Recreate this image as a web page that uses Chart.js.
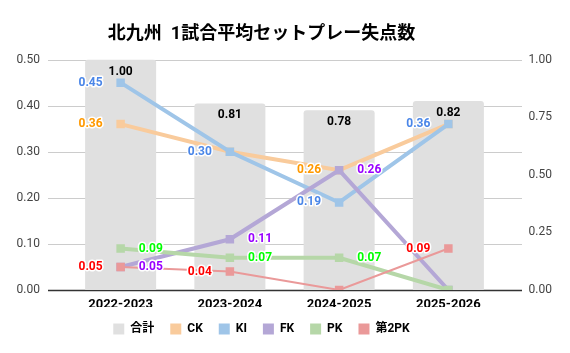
<!DOCTYPE html>
<html>
<head>
<meta charset="utf-8">
<script src="https://cdn.jsdelivr.net/npm/chart.js@4.4.1/dist/chart.umd.min.js"></script>
<style>
  html, body { margin: 0; padding: 0; background: #fff; }
  #wrap { width: 570px; height: 353px; }
</style>
</head>
<body>
<div id="wrap"><canvas id="setplayChart"></canvas></div>
<script>
// データ
const categories = ['2022-2023', '2023-2024', '2024-2025', '2025-2026'];
const totalValues = [1.00, 0.81, 0.78, 0.82];
const ckValues = [0.36, 0.30, 0.26, 0.36];
const kiValues = [0.45, 0.30, 0.19, 0.36];
const fkValues = [0.05, 0.11, 0.26, 0.00];
const pkValues = [0.09, 0.07, 0.07, 0.00];
const pk2Values = [0.05, 0.04, 0.00, 0.09];
const leftTicks = [0.00, 0.10, 0.20, 0.30, 0.40, 0.50];
const rightTicks = [0.00, 0.25, 0.50, 0.75, 1.00];

const FONT = "Roboto, 'Noto Sans CJK JP', sans-serif";

// 横のグリッド線（プロット領域より少し広く描く）
const gridPlugin = {
  id: 'wideGrid',
  beforeDatasetsDraw(chart) {
    const c = chart.ctx;
    const y = chart.scales.y;
    c.save();
    leftTicks.forEach(v => {
      const py = Math.round(y.getPixelForValue(v)) + 0.5;
      c.beginPath();
      c.strokeStyle = v === 0 ? '#333' : '#ccc';
      c.lineWidth = v === 0 ? 1.5 : 1;
      c.moveTo(48, py);
      c.lineTo(522, py);
      c.stroke();
    });
    c.restore();
  }
};

// 値ラベル
const labelPlugin = {
  id: 'valueLabels',
  afterDatasetsDraw(chart) {
    const c = chart.ctx;
    c.save();
    c.font = 'bold 12px ' + FONT;
    c.textBaseline = 'middle';
    c.lineJoin = 'round';
    chart.data.datasets.forEach((ds, i) => {
      if (!ds.labelSides) return;
      const meta = chart.getDatasetMeta(i);
      meta.data.forEach((el, j) => {
        const side = ds.labelSides[j];
        if (!side) return;
        const text = ds.data[j].toFixed(2);
        let x = el.x, y = el.y;
        if (side === 'in') { c.textAlign = 'center'; y = el.y + 12; }
        else if (side === 'L') { c.textAlign = 'right'; x = el.x - 18; }
        else { c.textAlign = 'left'; x = el.x + 18; }
        c.strokeStyle = '#fff';
        c.lineWidth = 3;
        if (side !== 'in') c.strokeText(text, x, y);
        c.fillStyle = ds.labelColor;
        c.fillText(text, x, y);
      });
    });
    c.restore();
  }
};

function lineSet(label, data, color, labelColor, width, order, sides) {
  return {
    type: 'line', label, data,
    borderColor: color, backgroundColor: color,
    borderWidth: width,
    pointStyle: 'rect', pointRadius: 6, pointBorderWidth: 0,
    pointBackgroundColor: color,
    yAxisID: 'y', order,
    legendColor: color, labelColor, labelSides: sides
  };
}

const ctx = document.getElementById('setplayChart').getContext('2d');
const setplayChart = new Chart(ctx, {
  data: {
    labels: categories,
    datasets: [
      {
        type: 'bar', label: '合計', data: totalValues,
        backgroundColor: '#e0e0e0', borderRadius: 3, borderSkipped: 'bottom',
        barPercentage: 0.65, categoryPercentage: 1,
        yAxisID: 'y1', order: 10,
        legendColor: '#e0e0e0', labelColor: '#000',
        labelSides: ['in', 'in', 'in', 'in']
      },
      lineSet('CK', ckValues, '#f9cb9c', '#ff9900', 4, 5, ['L', null, 'L', null]),
      lineSet('KI', kiValues, '#9fc5e8', '#4a86e8', 4, 4, ['L', 'L', 'L', 'L']),
      lineSet('FK', fkValues, '#b4a7d6', '#9900ff', 4, 3, ['R', 'R', 'R', null]),
      lineSet('PK', pkValues, '#b6d7a8', '#00ff00', 4, 2, ['R', 'R', 'R', null]),
      lineSet('第2PK', pk2Values, '#ea9999', '#ff0000', 2, 1, ['L', 'L', null, 'L'])
    ]
  },
  options: {
    responsive: true,
    maintainAspectRatio: false,
    animation: false,
    layout: { padding: { left: 0, right: 47, top: 0, bottom: 8 } },
    plugins: {
      title: {
        display: true,
        text: '北九州  1試合平均セットプレー失点数',
        color: '#000',
        font: { family: FONT, size: 18, weight: 'bold' },
        padding: { top: 24, bottom: 14 }
      },
      legend: {
        position: 'bottom',
        labels: {
          boxWidth: 11, boxHeight: 11, padding: 16,
          color: '#222',
          font: { family: FONT, size: 12, weight: 'bold' },
          generateLabels(chart) {
            return chart.data.datasets.map((ds, i) => ({
              text: ds.label, fillStyle: ds.legendColor, strokeStyle: ds.legendColor,
              lineWidth: 0, datasetIndex: i, hidden: false
            }));
          }
        }
      },
      tooltip: { enabled: false }
    },
    scales: {
      x: {
        grid: { display: false, drawTicks: false },
        border: { display: false },
        ticks: { color: '#000', padding: 7, font: { family: FONT, size: 13, weight: 'bold' } },
        afterFit(scale) { scale.height = 17; }
      },
      y: {
        position: 'left', min: 0, max: 0.5,
        afterBuildTicks(scale) { scale.ticks = leftTicks.map(v => ({ value: v })); },
        grid: { display: false, drawTicks: false },
        border: { display: false },
        ticks: { color: '#444', padding: 26, font: { family: FONT, size: 12 }, callback: v => v.toFixed(2) },
        afterFit(scale) { scale.width = 66; }
      },
      y1: {
        position: 'right', min: 0, max: 1,
        afterBuildTicks(scale) { scale.ticks = rightTicks.map(v => ({ value: v })); },
        grid: { display: false, drawTicks: false },
        border: { display: false },
        ticks: { mirror: true, color: '#444', padding: 49, font: { family: FONT, size: 12 }, callback: v => v.toFixed(2) },
        afterFit(scale) { scale.width = 20; }
      }
    }
  },
  plugins: [gridPlugin, labelPlugin]
});
</script>
</body>
</html>
